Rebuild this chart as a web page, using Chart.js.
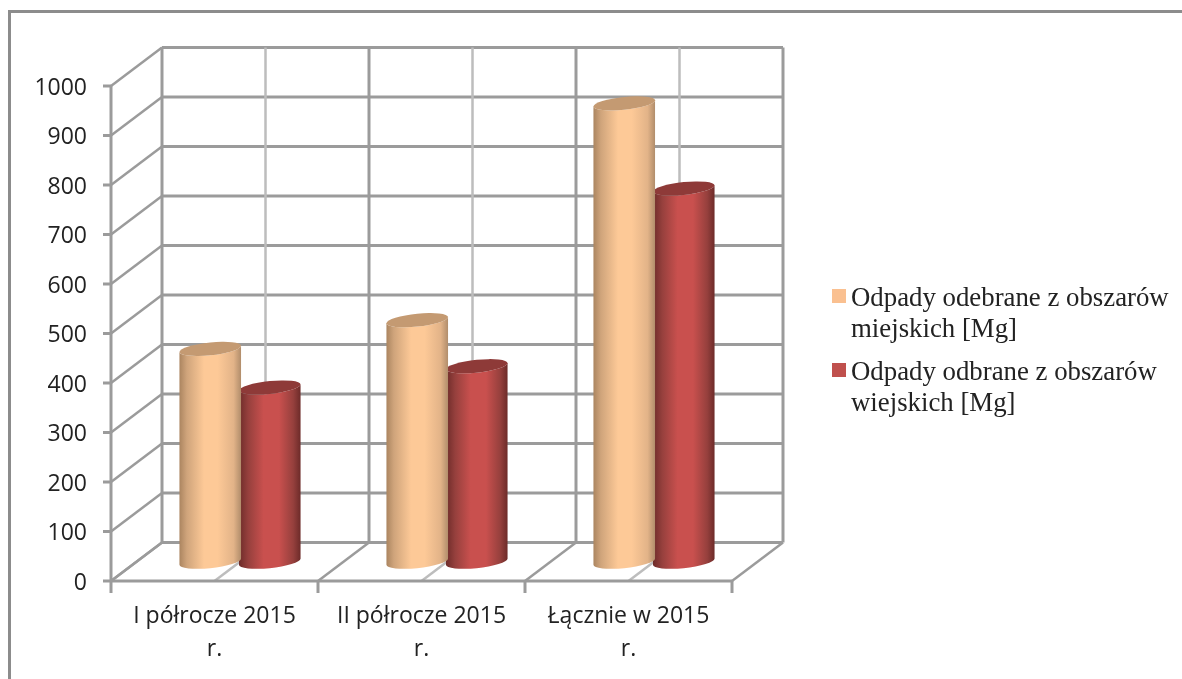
<!DOCTYPE html>
<html lang="pl">
<head>
<meta charset="utf-8">
<title>Odpady</title>
<script src="https://cdn.jsdelivr.net/npm/chart.js@4/dist/chart.umd.min.js"></script>
<style>
    html, body { margin: 0; padding: 0; background: #fff; overflow: hidden; }
    #wrap { position: relative; width: 1182px; height: 679px; }
    #frame { position: absolute; left: 8px; top: 10px; width: 1190px; height: 690px; border: 3px solid #8c8c8c; box-sizing: border-box; }
    #legend { position: absolute; left: 832px; top: 282px; font-family: "Liberation Serif", serif; font-size: 26.8px; line-height: 30.5px; color: #222; }
    .item { position: relative; padding-left: 19px; margin-bottom: 13px; white-space: nowrap; }
    .swatch { position: absolute; left: 0; top: 7px; width: 14px; height: 14px; }
</style>
</head>
<body>
<div id="wrap">
    <div id="frame"></div>
    <canvas id="wasteChart" width="1182" height="679"></canvas>
    <div id="legend"></div>
</div>
<script>
const categories = [['I półrocze 2015', 'r.'], ['II półrocze 2015', 'r.'], ['Łącznie w 2015', 'r.']];
const urbanValues = [430, 488, 926];
const ruralValues = [352, 395, 754];
const seriesLabels = [['Odpady odebrane z obszarów', 'miejskich [Mg]'], ['Odpady odbrane z obszarów', 'wiejskich [Mg]']];
const yTicks = [0, 100, 200, 300, 400, 500, 600, 700, 800, 900, 1000];

// przesunięcie tylnej ściany względem przedniej płaszczyzny osi
const DEPTH_X = 51;
const DEPTH_Y = -38.5;
const SHEAR = -0.1;
const GRID = '#9b9b9b';
const GRID_LIGHT = '#bdbdbd';

const palettes = [
    { stops: [[0, '#ab8560'], [0.12, '#cfa47b'], [0.4, '#fdc997'], [0.62, '#fdc997'], [0.88, '#e2b388'], [1, '#b18d6b']], top: '#c49a72', swatch: '#fac090' },
    { stops: [[0, '#6d2b29'], [0.15, '#96403d'], [0.4, '#c9504e'], [0.65, '#c9504e'], [0.88, '#96403d'], [1, '#6d2b29']], top: '#8e3a38', swatch: '#c0504d' }
];

function line(ctx, x1, y1, x2, y2, color, width) {
    ctx.strokeStyle = color;
    ctx.lineWidth = width;
    ctx.beginPath();
    ctx.moveTo(x1, y1);
    ctx.lineTo(x2, y2);
    ctx.stroke();
}

// siatka 3D liczona ze skal wykresu
const wallsPlugin = {
    id: 'walls',
    beforeDatasetsDraw: function (chart) {
        const ctx = chart.ctx;
        const x = chart.scales.x;
        const y = chart.scales.y;
        const left = chart.chartArea.left;
        const right = chart.chartArea.right;
        const top = chart.chartArea.top;
        const bottom = chart.chartArea.bottom;
        const step = (right - left) / categories.length;
        ctx.save();
        yTicks.forEach(function (v) {
            const py = y.getPixelForValue(v);
            line(ctx, left - 8, py, left, py, GRID, 3);
            line(ctx, left, py, left + DEPTH_X, py + DEPTH_Y, GRID, 2.5);
            line(ctx, left + DEPTH_X, py + DEPTH_Y, right + DEPTH_X, py + DEPTH_Y, GRID, 3);
        });
        categories.forEach(function (c, i) {
            const cx = x.getPixelForValue(i);
            line(ctx, cx, bottom, cx + DEPTH_X, bottom + DEPTH_Y, GRID_LIGHT, 2.5);
            line(ctx, cx + DEPTH_X, top + DEPTH_Y, cx + DEPTH_X, bottom + DEPTH_Y, GRID_LIGHT, 2.5);
        });
        for (let i = 0; i <= categories.length; i++) {
            const tx = left + step * i;
            line(ctx, tx, bottom, tx, bottom + 12, GRID, 3);
            line(ctx, tx, bottom, tx + DEPTH_X, bottom + DEPTH_Y, GRID, 2.5);
            line(ctx, tx + DEPTH_X, top + DEPTH_Y, tx + DEPTH_X, bottom + DEPTH_Y, GRID, 3);
        }
        line(ctx, left, top, left, bottom, GRID, 3);
        line(ctx, left, bottom, right, bottom, GRID, 3);
        ctx.restore();
    }
};

// słupki rysowane jako walce na podstawie elementów Chart.js
const cylinderPlugin = {
    id: 'cylinder',
    beforeDatasetDraw: function (chart, args) {
        const ctx = chart.ctx;
        const palette = palettes[args.index];
        args.meta.data.forEach(function (bar) {
            const p = bar.getProps(['x', 'y', 'base', 'width'], true);
            const rx = p.width * 1.035 / 2;
            const ry = 6.4;
            const topY = p.y + DEPTH_Y / 2;
            const baseY = p.base + DEPTH_Y / 2;
            ctx.save();
            // pochylenie, żeby boki walca były pionowe i styczne do elips
            ctx.transform(1, SHEAR, 0, 1, p.x + DEPTH_X / 2, 0);
            const g = ctx.createLinearGradient(-rx, 0, rx, 0);
            palette.stops.forEach(function (s) { g.addColorStop(s[0], s[1]); });
            ctx.fillStyle = g;
            ctx.beginPath();
            ctx.ellipse(0, baseY, rx, ry, 0, Math.PI, 0, true);
            ctx.ellipse(0, topY, rx, ry, 0, 0, Math.PI, false);
            ctx.closePath();
            ctx.fill();
            ctx.fillStyle = palette.top;
            ctx.beginPath();
            ctx.ellipse(0, topY, rx, ry, 0, 0, Math.PI * 2);
            ctx.fill();
            ctx.restore();
        });
        return false;
    }
};

document.addEventListener('DOMContentLoaded', function () {
    const wasteChart = new Chart(document.getElementById('wasteChart'), {
        type: 'bar',
        data: {
            labels: categories,
            datasets: [{
                label: seriesLabels[0].join(' '),
                data: urbanValues,
                backgroundColor: palettes[0].swatch
            }, {
                label: seriesLabels[1].join(' '),
                data: ruralValues,
                backgroundColor: palettes[1].swatch
            }]
        },
        options: {
            responsive: false,
            animation: false,
            barPercentage: 1,
            categoryPercentage: 0.575,
            layout: {
                padding: { top: 86, right: 450, bottom: 0, left: 0 }
            },
            plugins: {
                legend: { display: false },
                tooltip: { enabled: false }
            },
            scales: {
                x: {
                    grid: { display: false },
                    border: { display: false },
                    afterFit: function (scale) { scale.height = 98; },
                    ticks: {
                        color: '#222',
                        padding: 11,
                        maxRotation: 0,
                        font: { family: 'Open Sans', size: 23, lineHeight: 1.435 }
                    }
                },
                y: {
                    min: 0,
                    max: 1000,
                    grid: { display: false },
                    border: { display: false },
                    afterFit: function (scale) { scale.width = 111; },
                    ticks: {
                        color: '#222',
                        padding: 16,
                        stepSize: 100,
                        labelOffset: 2,
                        callback: function (value) { return String(value); },
                        font: { family: 'Open Sans', size: 23 }
                    }
                }
            }
        },
        plugins: [wallsPlugin, cylinderPlugin]
    });

    // legenda z ręcznym łamaniem wierszy
    const legend = document.getElementById('legend');
    seriesLabels.forEach(function (lines, i) {
        const item = document.createElement('div');
        item.className = 'item';
        const swatch = document.createElement('span');
        swatch.className = 'swatch';
        swatch.style.background = palettes[i].swatch;
        item.appendChild(swatch);
        lines.forEach(function (text) {
            const row = document.createElement('div');
            row.textContent = text;
            item.appendChild(row);
        });
        legend.appendChild(item);
    });
});
</script>
</body>
</html>
